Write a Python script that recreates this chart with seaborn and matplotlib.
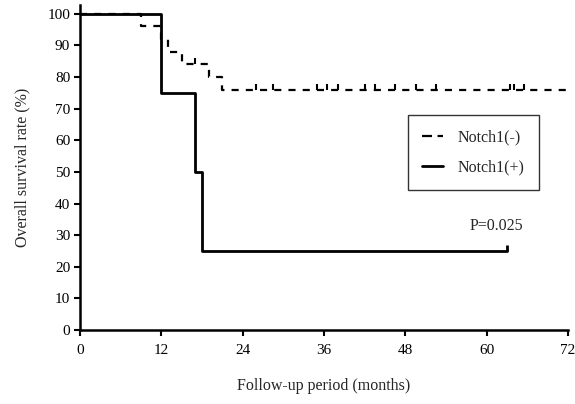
import numpy as np
import pandas as pd
import matplotlib
matplotlib.use("Agg")
import matplotlib.pyplot as plt
import seaborn as sns
from matplotlib.lines import Line2D

# ---- data ----
neg_times = [0, 9, 12, 13, 15, 19, 21, 72]
neg_surv = [100, 96, 92, 88, 84, 80, 76, 76]
neg_cens_t = [17, 26, 28.5, 35, 36.5, 38, 42, 43.5, 46.5, 49.5, 52.5, 63.5, 64, 65.5]
neg_cens_s = [84, 76, 76, 76, 76, 76, 76, 76, 76, 76, 76, 76, 76, 76]

pos_times = [0, 12, 17, 18, 63]
pos_surv = [100, 75, 50, 25, 25]
pos_cens_t = [63]
pos_cens_s = [25]

x_ticks = [0, 12, 24, 36, 48, 60, 72]
y_ticks = [0, 10, 20, 30, 40, 50, 60, 70, 80, 90, 100]
labels = ["Notch1(-)", "Notch1(+)"]
p_text = "P=0.025"

sns.set_theme(style="ticks")
plt.rcParams["font.family"] = ["Liberation Serif", "DejaVu Serif"]

fig = plt.figure(figsize=(5.75, 4.04), dpi=100)
ax = fig.add_axes([0.139, 0.183, 0.849, 0.805])

neg_df = pd.DataFrame({"t": neg_times, "s": neg_surv})
pos_df = pd.DataFrame({"t": pos_times, "s": pos_surv})

sns.lineplot(data=neg_df, x="t", y="s", ax=ax, color="black", lw=1.6,
             drawstyle="steps-post", estimator=None, sort=False,
             dashes=False, linestyle=(0, (3.2, 3.2)))
sns.lineplot(data=pos_df, x="t", y="s", ax=ax, color="black", lw=2.0,
             drawstyle="steps-post", estimator=None, sort=False)

sns.scatterplot(x=neg_cens_t, y=neg_cens_s, ax=ax, marker=2, s=16,
                color="black", linewidth=1.5, zorder=3)
sns.scatterplot(x=pos_cens_t, y=pos_cens_s, ax=ax, marker=2, s=20,
                color="black", linewidth=2.0, zorder=3)

ax.set_xlim(0, 72)
ax.set_ylim(0, 102.8)
ax.set_xticks(x_ticks)
ax.set_yticks(y_ticks)
ax.tick_params(axis="both", direction="out", length=4, width=1.5,
               colors="black", labelsize=11, pad=3)
ax.tick_params(axis="x", pad=6)
for side in ["top", "right"]:
    ax.spines[side].set_visible(False)
for side in ["left", "bottom"]:
    ax.spines[side].set_linewidth(1.8)
    ax.spines[side].set_color("black")

ax.set_xlabel("Follow-up period (months)", fontsize=11.5, labelpad=15)
ax.set_ylabel("Overall survival rate (%)", fontsize=11.5, labelpad=12)

ax.text(57.5, 33, p_text, fontsize=11.5, ha="left", va="center")

handles = [Line2D([], [], color="black", lw=1.6, linestyle=(0, (4.5, 2.5))),
           Line2D([], [], color="black", lw=2.0)]
leg = ax.legend(handles, labels, loc="upper left", bbox_to_anchor=(0.672, 0.662),
                frameon=True, fancybox=False, fontsize=11.5, handlelength=1.3,
                handletextpad=0.9, borderpad=0.9, labelspacing=0.9,
                borderaxespad=0)
leg.get_frame().set_edgecolor("black")
leg.get_frame().set_linewidth(1.0)

fig.savefig("out.png", dpi=100)
